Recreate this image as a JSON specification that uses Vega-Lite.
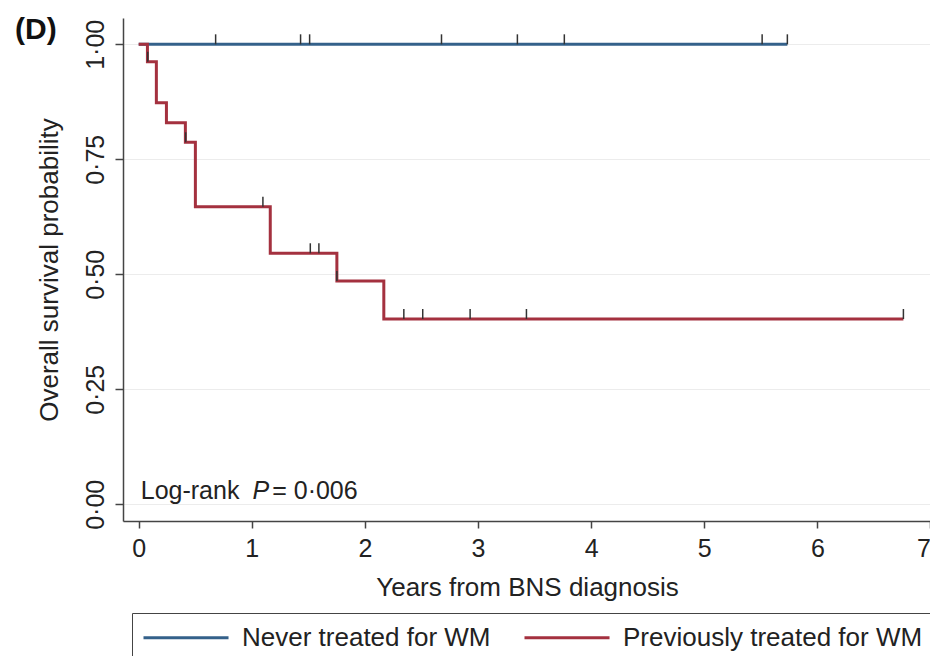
{
  "$schema": "https://vega.github.io/schema/vega-lite/v6.json",
  "width": 808,
  "height": 503,
  "autosize": {"type": "none"},
  "padding": {"left": 123, "top": 18, "right": 0, "bottom": 135},
  "background": "white",
  "title": {"text": "(D)", "anchor": "start", "frame": "group", "fontSize": 30, "fontWeight": "bold", "font": "Liberation Sans", "color": "#111", "dx": -108, "dy": 51, "offset": 0, "baseline": "alphabetic"},
  "config": {
    "view": {"stroke": null},
    "font": "Liberation Sans",
    "axis": {"domainColor": "#444", "domainWidth": 1.5, "tickColor": "#444", "tickWidth": 1.5, "labelColor": "#222", "titleColor": "#222", "labelFont": "Liberation Sans", "titleFont": "Liberation Sans", "labelFontSize": 25, "titleFontSize": 26, "titleFontWeight": "normal"}
  },
  "datasets": {
    "lines": [
      {"group": "Never treated for WM", "t": 0, "s": 1},
      {"group": "Never treated for WM", "t": 5.735, "s": 1},
      {"group": "Previously treated for WM", "t": 0, "s": 1},
      {"group": "Previously treated for WM", "t": 0.077, "s": 0.962},
      {"group": "Previously treated for WM", "t": 0.156, "s": 0.873},
      {"group": "Previously treated for WM", "t": 0.245, "s": 0.8296},
      {"group": "Previously treated for WM", "t": 0.4125, "s": 0.787},
      {"group": "Previously treated for WM", "t": 0.501, "s": 0.647},
      {"group": "Previously treated for WM", "t": 1.163, "s": 0.5457},
      {"group": "Previously treated for WM", "t": 1.752, "s": 0.4854},
      {"group": "Previously treated for WM", "t": 2.167, "s": 0.4028},
      {"group": "Previously treated for WM", "t": 6.761, "s": 0.4028}
    ],
    "censor": [
      {"group": "Never treated for WM", "t": 0.68, "s": 1},
      {"group": "Never treated for WM", "t": 1.431, "s": 1},
      {"group": "Never treated for WM", "t": 1.511, "s": 1},
      {"group": "Never treated for WM", "t": 2.677, "s": 1},
      {"group": "Never treated for WM", "t": 3.348, "s": 1},
      {"group": "Never treated for WM", "t": 3.763, "s": 1},
      {"group": "Never treated for WM", "t": 5.512, "s": 1},
      {"group": "Never treated for WM", "t": 5.735, "s": 1},
      {"group": "Previously treated for WM", "t": 0.08, "s": 0.962},
      {"group": "Previously treated for WM", "t": 0.415, "s": 0.787},
      {"group": "Previously treated for WM", "t": 1.098, "s": 0.647},
      {"group": "Previously treated for WM", "t": 1.517, "s": 0.5457},
      {"group": "Previously treated for WM", "t": 1.593, "s": 0.5457},
      {"group": "Previously treated for WM", "t": 1.752, "s": 0.4854},
      {"group": "Previously treated for WM", "t": 2.344, "s": 0.4028},
      {"group": "Previously treated for WM", "t": 2.511, "s": 0.4028},
      {"group": "Previously treated for WM", "t": 2.93, "s": 0.4028},
      {"group": "Previously treated for WM", "t": 3.428, "s": 0.4028},
      {"group": "Previously treated for WM", "t": 6.761, "s": 0.4028}
    ],
    "note": [{"a": "Log-rank", "b": "P", "c": "= 0·006"}]
  },
  "layer": [
    {
      "data": {"name": "lines"},
      "mark": {"type": "line", "interpolate": "step-after", "strokeWidth": 3},
      "encoding": {
        "x": {"field": "t", "type": "quantitative", "scale": {"domain": [-0.139, 7.005], "nice": false, "zero": false},
          "axis": {"values": [0, 1, 2, 3, 4, 5, 6, 7], "title": "Years from BNS diagnosis", "grid": false, "tickSize": 7, "labelPadding": 8, "titlePadding": 13, "format": "d"}},
        "y": {"field": "s", "type": "quantitative", "scale": {"domain": [-0.0363, 1.0572], "nice": false, "zero": false},
          "axis": {"values": [0, 0.25, 0.5, 0.75, 1], "format": ".2f", "labelExpr": "replace(datum.label, '.', '·')", "title": "Overall survival probability", "grid": true, "gridColor": "#ececec", "gridWidth": 1, "tickSize": 8, "labelAngle": -90, "labelAlign": "center", "labelBaseline": "bottom", "labelPadding": 7, "titlePadding": 21}},
        "color": {"field": "group", "type": "nominal",
          "scale": {"domain": ["Never treated for WM", "Previously treated for WM"], "range": ["#34618a", "#a4313f"]},
          "legend": {"orient": "none", "legendX": 9, "legendY": 595, "direction": "horizontal", "title": null, "symbolType": "M-1,0L5.54,0", "symbolSize": 676, "symbolStrokeWidth": 3, "symbolFillColor": "transparent", "labelFontSize": 26, "labelFont": "Liberation Sans", "labelColor": "#222", "labelOffset": 71, "labelLimit": 500, "columnPadding": 27, "padding": 10, "strokeColor": "#444", "fillColor": "white"}}
      }
    },
    {
      "data": {"name": "censor"},
      "mark": {"type": "rule", "color": "#333", "strokeWidth": 1.5, "y2Offset": -10},
      "encoding": {
        "x": {"field": "t", "type": "quantitative"},
        "y": {"field": "s", "type": "quantitative"},
        "y2": {"field": "s"}
      }
    },
    {
      "data": {"name": "note"},
      "mark": {"type": "text", "align": "left", "baseline": "alphabetic", "fontSize": 25, "color": "#222"},
      "encoding": {"text": {"field": "a"}, "x": {"datum": 0.018}, "y": {"datum": 0.012}}
    },
    {
      "data": {"name": "note"},
      "mark": {"type": "text", "align": "left", "baseline": "alphabetic", "fontSize": 25, "fontStyle": "italic", "color": "#222"},
      "encoding": {"text": {"field": "b"}, "x": {"datum": 1.005}, "y": {"datum": 0.012}}
    },
    {
      "data": {"name": "note"},
      "mark": {"type": "text", "align": "left", "baseline": "alphabetic", "fontSize": 25, "color": "#222"},
      "encoding": {"text": {"field": "c"}, "x": {"datum": 1.18}, "y": {"datum": 0.012}}
    }
  ]
}
